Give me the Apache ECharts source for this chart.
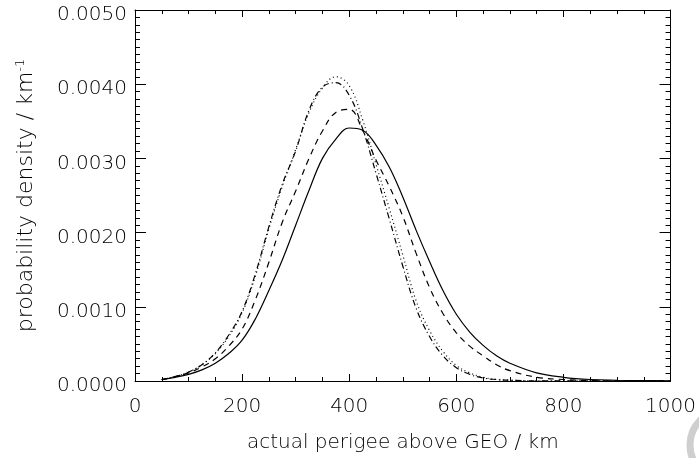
<!DOCTYPE html>
<html><head><meta charset="utf-8">
<script src="https://cdn.jsdelivr.net/npm/echarts@6/dist/echarts.min.js"></script>
<style>html,body{margin:0;padding:0;background:#fff}#c{width:699px;height:458px}</style>
</head><body><div id="c"></div>
<script>
var xs = [50,75,100,125,150,175,200,225,250,275,300,325,350,375,400,425,450,475,500,525,550,575,600,625,650,675,700,750,800,850,900,950,1000];
var solid = [0.00002,0.00005,0.00009,0.00015,0.00024,0.00037,0.00055,0.00084,0.00122,0.00163,0.00210,0.00257,0.00300,0.00326,0.00341,0.00338,0.00318,0.00288,0.00248,0.00203,0.00161,0.00122,0.00090,0.00066,0.00048,0.00034,0.00024,0.00011,0.00005,0.00002,0.00001,0.000005,0.000002];
var dashed = [0.00002,0.00006,0.00011,0.00019,0.00030,0.00047,0.00070,0.00110,0.00160,0.00214,0.00256,0.00300,0.00337,0.00362,0.00366,0.00338,0.00298,0.00262,0.00222,0.00172,0.00126,0.00091,0.00065,0.00047,0.00034,0.00022,0.00014,0.00005,0.00002,0.000005,0.000002,0.000001,0.0000005];
var dotted = [0.00002,0.00006,0.00012,0.00022,0.00037,0.00060,0.00092,0.00142,0.00205,0.00262,0.00312,0.00362,0.00395,0.00410,0.00398,0.00352,0.00292,0.00232,0.00170,0.00108,0.00068,0.00040,0.00021,0.00011,0.00005,0.00002,0.00001,0.000002,0.000001,0.0000005,0.0000002,0.0000001,0.0000001];
var dashdot = [0.00002,0.00006,0.00012,0.00022,0.00038,0.00062,0.00094,0.00145,0.00208,0.00265,0.00310,0.00365,0.00396,0.00402,0.00385,0.00340,0.00280,0.00218,0.00155,0.00098,0.00060,0.00034,0.00018,0.00009,0.00004,0.00002,0.00001,0.000002,0.000001,0.0000005,0.0000002,0.0000001,0.0000001];
var xTicks = [0,200,400,600,800,1000];
var yTicks = [0,0.001,0.002,0.003,0.004,0.005];

function pairs(ys){ return xs.map(function(x,i){ return [x, ys[i]]; }); }
var font = 'DejaVu Sans';
var txt = '#000';
var W = 200;
var chart = echarts.init(document.getElementById('c'), null, {renderer:'canvas'});
function mkX(pos, show){
  return {type:'value', position:pos, min:xTicks[0], max:xTicks[xTicks.length-1], interval:200,
    axisLine:{show:true,onZero:false,lineStyle:{color:'#000',width:1}},
    axisTick:{show:true,inside:true,length:7,lineStyle:{color:'#000'}},
    minorTick:{show:true,splitNumber:4,length:4,lineStyle:{color:'#000'}},
    splitLine:{show:false},
    axisLabel:{show:show,fontFamily:font,fontWeight:W,fontSize:20,color:txt,margin:16,formatter:function(v){return String(v);}},
    name: show ? 'actual perigee above GEO / km' : '', nameLocation:'middle', nameGap:52,
    nameTextStyle:{fontFamily:font,fontWeight:W,fontSize:20,color:txt}};
}
function mkY(pos, show){
  return {type:'value', position:pos, min:yTicks[0], max:yTicks[yTicks.length-1], interval:0.001,
    axisLine:{show:true,onZero:false,lineStyle:{color:'#000',width:1}},
    axisTick:{show:true,inside:true,length:11,lineStyle:{color:'#000'}},
    minorTick:{show:true,splitNumber:10,length:5,lineStyle:{color:'#000'}},
    splitLine:{show:false},
    axisLabel:{show:show,fontFamily:font,fontWeight:W,fontSize:20,color:txt,margin:8,
      formatter:function(v){return '{v|' + v.toFixed(4) + '}';},
      rich:{v:{fontFamily:font,fontWeight:W,fontSize:20,color:txt,padding:[10,0,0,0]}}},
    name: show ? '{a|probability density / km}{s|-1}' : '', nameLocation:'middle', nameGap:96, nameRotate:90,
    nameTextStyle:{fontFamily:font,fontWeight:W,fontSize:22,color:txt,rich:{a:{fontFamily:font,fontWeight:W,fontSize:22,color:txt},s:{fontFamily:font,fontWeight:W,fontSize:13,color:txt,verticalAlign:'top',padding:[0,0,12,0]}}}};
}
function ser(ys, type){
  return {type:'line', data:pairs(ys), showSymbol:false, smooth:0.4, xAxisIndex:0, yAxisIndex:0,
    lineStyle:{color:'#000', width:1.2, type:type}, animation:false};
}
chart.setOption({
  animation:false,
  backgroundColor:'#fff',
  grid:{left:135, right:27, top:10, bottom:71, containLabel:false},
  xAxis:[mkX('bottom',true), mkX('top',false)],
  yAxis:[mkY('left',true), mkY('right',false)],
  series:[ser(solid,'solid'), ser(dashed,[6,5]), ser(dotted,[1,3]), ser(dashdot,[6,3,1,3])],
  graphic:[{type:'circle', shape:{cx:725, cy:445, r:35}, style:{fill:null, stroke:'#cfcfcf', lineWidth:7}, silent:true}]
});
</script></body></html>
